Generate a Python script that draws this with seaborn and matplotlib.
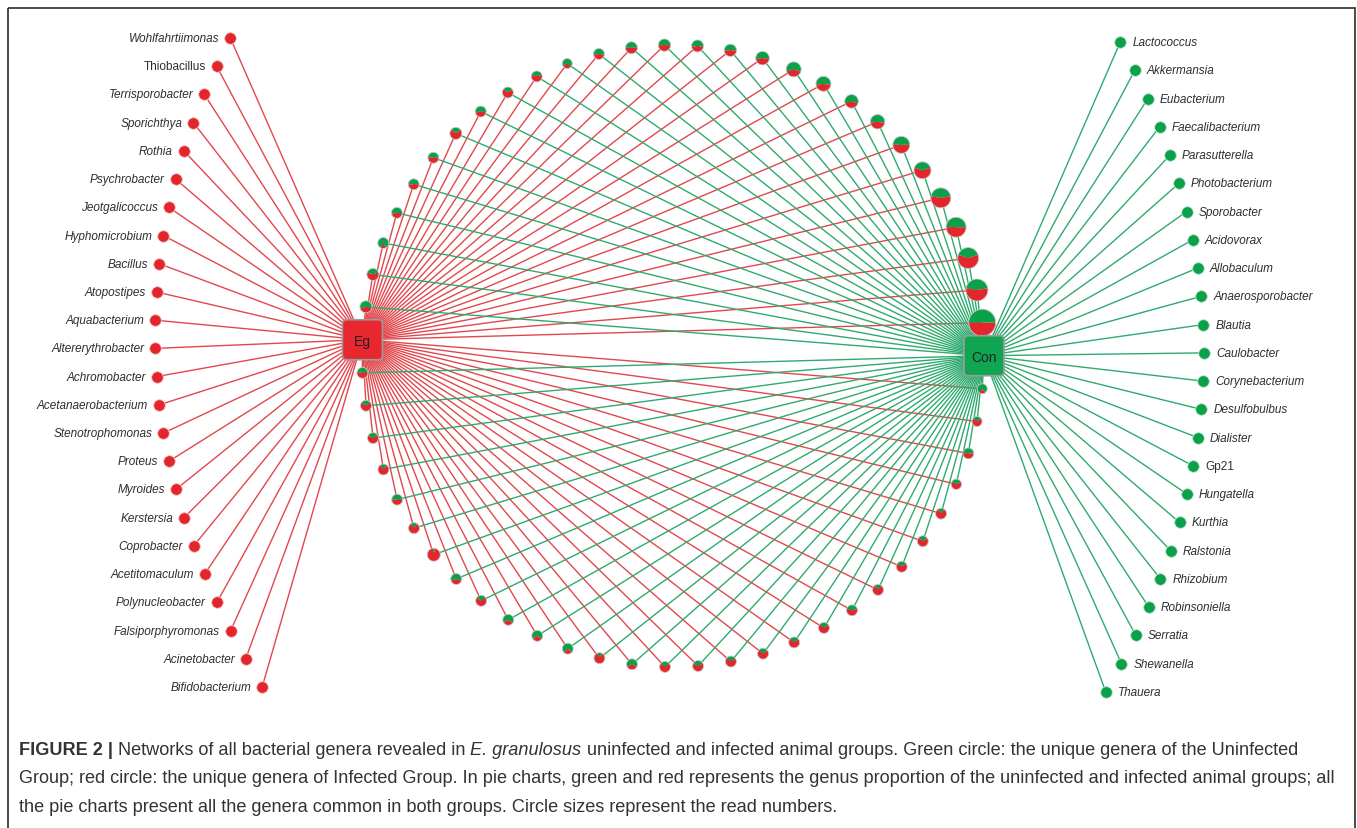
import numpy as np
import pandas as pd
import matplotlib
matplotlib.use("Agg")
import matplotlib.pyplot as plt
import seaborn as sns
from matplotlib.patches import Wedge, FancyBboxPatch, Rectangle
from matplotlib.collections import LineCollection

# genera found only in the infected group (Eg)
eg_only = ["Wohlfahrtiimonas", "Thiobacillus", "Terrisporobacter", "Sporichthya", "Rothia",
           "Psychrobacter", "Jeotgalicoccus", "Hyphomicrobium", "Bacillus", "Atopostipes",
           "Aquabacterium", "Altererythrobacter", "Achromobacter", "Acetanaerobacterium",
           "Stenotrophomonas", "Proteus", "Myroides", "Kerstersia", "Coprobacter",
           "Acetitomaculum", "Polynucleobacter", "Falsiporphyromonas", "Acinetobacter",
           "Bifidobacterium"]

# genera found only in the uninfected group (Con)
con_only = ["Lactococcus", "Akkermansia", "Eubacterium", "Faecalibacterium", "Parasutterella",
            "Photobacterium", "Sporobacter", "Acidovorax", "Allobaculum", "Anaerosporobacter",
            "Blautia", "Caulobacter", "Corynebacterium", "Desulfobulbus", "Dialister", "Gp21",
            "Hungatella", "Kurthia", "Ralstonia", "Rhizobium", "Robinsoniella", "Serratia",
            "Shewanella", "Thauera"]

upright = ["Thiobacillus", "Gp21"]

# shared genera (pie nodes): upper arc from Eg to Con (28), lower arc from Con back to Eg (29)
# relative read numbers (node area) and share of the uninfected group (green part)
shared_reads_upper = [36, 36, 30, 30, 30, 30, 36, 30, 30, 30, 25, 30, 36, 38, 36, 38, 46, 56,
                      56, 46, 52, 72, 72, 100, 100, 110, 121, 182]
shared_reads_lower = [25, 25, 30, 27, 30, 30, 30, 30, 30, 30, 30, 30, 30, 30, 30, 30, 30, 30,
                      30, 30, 30, 30, 42, 30, 30, 30, 30, 30, 30]
shared_green_upper = [0.6, 0.4, 0.85, 0.55, 0.5, 0.5, 0.3, 0.55, 0.3, 0.4, 0.7, 0.55, 0.5, 0.5,
                      0.55, 0.5, 0.55, 0.6, 0.55, 0.6, 0.55, 0.5, 0.4, 0.45, 0.5, 0.4, 0.45, 0.5]
shared_green_lower = [0.8, 0.3, 0.5, 0.35, 0.2, 0.3, 0.3, 0.2, 0.4, 0.3, 0.3, 0.3, 0.3, 0.35,
                      0.3, 0.65, 0.15, 0.75, 0.7, 0.7, 0.3, 0.6, 0.05, 0.2, 0.5, 0.2, 0.35, 0.3,
                      0.45]

caption_lines = [
    [("FIGURE 2 | ", "normal", "bold"),
     ("Networks of all bacterial genera revealed in ", "normal", "normal"),
     ("E. granulosus", "italic", "normal"),
     (" uninfected and infected animal groups. Green circle: the unique genera of the Uninfected", "normal", "normal")],
    [("Group; red circle: the unique genera of Infected Group. In pie charts, green and red represents the genus proportion of the uninfected and infected animal groups; all", "normal", "normal")],
    [("the pie charts present all the genera common in both groups. Circle sizes represent the read numbers.", "normal", "normal")],
]

RED = "#e3262b"
GREEN = "#0ba14b"
RED_LINE = "#e2474d"
GREEN_LINE = "#2faa6f"
TXT = "#2e2e2e"

sns.set_theme(style="white")
plt.rcParams["font.family"] = ["Liberation Sans", "DejaVu Sans"]

fig = plt.figure(figsize=(13.57, 8.29), dpi=100)
ax = fig.add_axes([0, 0, 1, 1])

shared_reads = shared_reads_upper + shared_reads_lower
shared_green = shared_green_upper + shared_green_lower

# ring layout: Eg, upper arc, Con, lower arc
cx, cy, R = 673, 357, 311
n_ring = len(shared_reads) + 2
ang = np.deg2rad(177 - np.arange(n_ring) * 360 / n_ring)
ring_x = cx + R * np.cos(ang)
ring_y = cy - R * np.sin(ang)
i_con = len(shared_reads_upper) + 1
eg_xy = (ring_x[0], ring_y[0])
con_xy = (ring_x[i_con], ring_y[i_con])
idx = [i for i in range(1, n_ring) if i != i_con]
sh_x, sh_y = ring_x[idx], ring_y[idx]

# side columns
ly = np.linspace(39, 688, len(eg_only))
lx = 155 + 0.00086 * (ly - 335) ** 2
ry = np.linspace(43, 693, len(con_only))
rx = 1204 - 0.00086 * (ry - 355) ** 2
left = pd.DataFrame({"x": lx, "y": ly, "genus": eg_only})
right = pd.DataFrame({"x": rx, "y": ry, "genus": con_only})

# edges
red_seg = [[eg_xy, (x, y)] for x, y in zip(sh_x, sh_y)] + [[eg_xy, (x, y)] for x, y in zip(lx, ly)]
green_seg = [[con_xy, (x, y)] for x, y in zip(sh_x, sh_y)] + [[con_xy, (x, y)] for x, y in zip(rx, ry)]
ax.add_collection(LineCollection(red_seg, colors=RED_LINE, linewidths=1.0, zorder=1))
ax.add_collection(LineCollection(green_seg, colors=GREEN_LINE, linewidths=1.0, zorder=1))

# unique nodes
sns.scatterplot(data=left, x="x", y="y", color=RED, s=70, edgecolor="#f2c6c6", linewidth=0.6, ax=ax, zorder=3)
sns.scatterplot(data=right, x="x", y="y", color=GREEN, s=70, edgecolor="#bfe5cd", linewidth=0.6, ax=ax, zorder=3)
ax.set_xlim(0, 1357)
ax.set_ylim(829, 0)
ax.axis("off")

clip = Rectangle((46, 0), 1400, 829, transform=ax.transData, visible=False)
ax.add_patch(clip)
for _, row in left.iterrows():
    st = "normal" if row.genus in upright else "italic"
    t = ax.text(row.x - 11, row.y, row.genus, ha="right", va="center", fontsize=8.5,
                style=st, color=TXT, zorder=4)
    t.set_clip_path(clip)
for _, row in right.iterrows():
    st = "normal" if row.genus in upright else "italic"
    ax.text(row.x + 12, row.y, row.genus, ha="left", va="center", fontsize=8.5,
            style=st, color=TXT, zorder=4)

# pie nodes
for x, y, reads, g in zip(sh_x, sh_y, shared_reads, shared_green):
    r = np.sqrt(reads)
    ax.add_patch(Wedge((x, y), r, 270 - 180 * g, 270 + 180 * g, facecolor=GREEN,
                       edgecolor="none", zorder=5))
    ax.add_patch(Wedge((x, y), r, 270 + 180 * g, 270 - 180 * g + 360, facecolor=RED,
                       edgecolor="none", zorder=5))
    ax.add_patch(Wedge((x, y), r, 0, 360, facecolor="none", edgecolor="#c9c9c9",
                       linewidth=0.6, zorder=6))

# group boxes
for (x, y), name, col in [(eg_xy, "Eg", "#e8282e"), (con_xy, "Con", "#10a651")]:
    ax.add_patch(FancyBboxPatch((x - 20, y - 20), 40, 40,
                                boxstyle="round,pad=0,rounding_size=4",
                                facecolor=col, edgecolor="#9c9c9c", linewidth=1.2, zorder=7))
    ax.text(x, y + 1, name, ha="center", va="center", fontsize=10, color="#222222", zorder=8)

# frame
ax.add_patch(Rectangle((8, 9), 1347, 900, fill=False, edgecolor="#3a3a3a", linewidth=1.3, zorder=9))

# caption, size fitted so the second line spans the text block
fig.canvas.draw()
rend = fig.canvas.get_renderer()
probe = ax.text(0, 0, caption_lines[1][0][0], fontsize=12)
w = probe.get_window_extent(rend).width
probe.remove()
cap_size = 12 * 1320 / w

for line, base in zip(caption_lines, [755, 783, 812]):
    x = 19
    for txt, st, wt in line:
        t = ax.text(x, base, txt, fontsize=cap_size, style=st, weight=wt, color="#333333",
                    ha="left", va="baseline", zorder=10)
        x += t.get_window_extent(rend).width

fig.savefig("out.png", dpi=100)
